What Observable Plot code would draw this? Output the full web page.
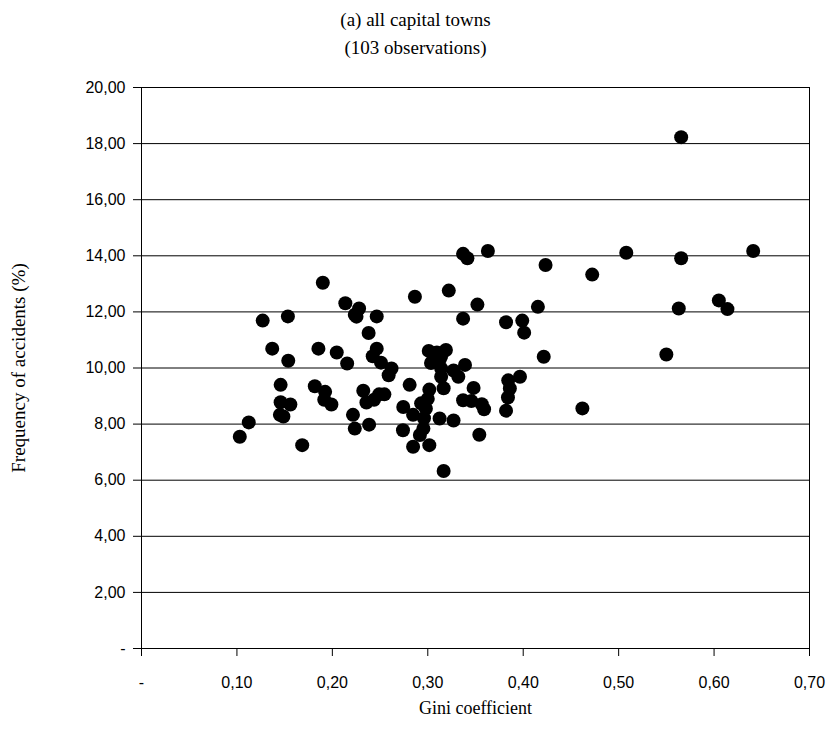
<!DOCTYPE html>
<html>
<head>
<meta charset="utf-8">
<script src="https://cdn.jsdelivr.net/npm/d3@7"></script>
<script src="https://cdn.jsdelivr.net/npm/@observablehq/plot@0.6"></script>
<style>
  html, body { margin: 0; padding: 0; background: #fff; }
  #title { width: 831px; height: 62px; padding-top: 6px; box-sizing: border-box; text-align: center;
           font-family: "Liberation Serif", "Times New Roman", serif; font-size: 19px; line-height: 28px; color: #000; }
</style>
</head>
<body>
<div id="title"></div>
<div id="chart"></div>
<script>
const titleLines = ["(a) all capital towns", "(103 observations)"];
const xLabel = "Gini coefficient";
const yLabel = "Frequency of accidents (%)";
const xTicks = [0, 0.1, 0.2, 0.3, 0.4, 0.5, 0.6, 0.7];
const yTicks = [0, 2, 4, 6, 8, 10, 12, 14, 16, 18, 20];

const gini = [
  0.5655, 0.337, 0.3415, 0.363, 0.508, 0.5655, 0.641, 0.4234, 0.4723, 0.190,
  0.2865, 0.322, 0.2136, 0.228, 0.2235, 0.2253, 0.2465, 0.1534, 0.127, 0.352,
  0.337, 0.4154, 0.382, 0.399, 0.401, 0.563, 0.605, 0.614, 0.238, 0.137,
  0.1854, 0.2046, 0.1538, 0.2155, 0.2465, 0.2423, 0.251, 0.262, 0.259, 0.301,
  0.3095, 0.319, 0.3034, 0.314, 0.314, 0.314, 0.327, 0.332, 0.339, 0.4215,
  0.550, 0.3966, 0.3843, 0.386, 0.384, 0.382, 0.462, 0.1458, 0.1816, 0.1924,
  0.1915, 0.199, 0.1458, 0.156, 0.145, 0.1487, 0.1124, 0.103, 0.1684, 0.2324,
  0.2357, 0.2437, 0.249, 0.2545, 0.2216, 0.2235, 0.2385, 0.281, 0.2743, 0.2846,
  0.274, 0.2846, 0.3016, 0.300, 0.293, 0.2964, 0.296, 0.2954, 0.2917, 0.3016,
  0.3166, 0.3124, 0.327, 0.3166, 0.348, 0.337, 0.3457, 0.3566, 0.359, 0.354,
  0.306, 0.3125, 0.298
];
const freq = [
  18.23, 14.07, 13.91, 14.17, 14.11, 13.91, 14.17, 13.67, 13.33, 13.04,
  12.54, 12.76, 12.31, 12.12, 11.90, 11.83, 11.84, 11.84, 11.69, 12.26,
  11.76, 12.18, 11.63, 11.69, 11.26, 12.12, 12.41, 12.10, 11.25, 10.69,
  10.69, 10.55, 10.26, 10.16, 10.69, 10.42, 10.19, 9.98, 9.74, 10.61,
  10.55, 10.64, 10.18, 10.42, 9.98, 9.69, 9.91, 9.69, 10.11, 10.40,
  10.48, 9.69, 9.56, 9.27, 8.95, 8.48, 8.56, 9.40, 9.35, 9.15,
  8.87, 8.70, 8.78, 8.70, 8.33, 8.27, 8.06, 7.55, 7.25, 9.19,
  8.77, 8.87, 9.06, 9.06, 8.33, 7.84, 7.98, 9.40, 8.61, 8.33,
  7.78, 7.19, 9.23, 8.90, 8.74, 8.66, 8.21, 7.84, 7.61, 7.25,
  9.28, 8.20, 8.13, 6.33, 9.29, 8.85, 8.82, 8.71, 8.53, 7.62,
  10.45, 10.30, 8.55
];

document.getElementById("title").innerHTML = titleLines.map(t => `<div>${t}</div>`).join("");

const data = gini.map((g, i) => ({gini: g, freq: freq[i]}));
const fmt = d => d === 0 ? "-" : d.toFixed(2).replace(".", ",");
const serif = "'Liberation Serif', 'Times New Roman', serif";

const chart = Plot.plot({
  width: 831,
  height: 669,
  marginTop: 25,
  marginBottom: 83,
  marginLeft: 141,
  marginRight: 22,
  style: {fontFamily: "'Liberation Sans', Arial, sans-serif", fontSize: "16px", color: "#000", background: "#fff"},
  x: {domain: [0, 0.7], ticks: xTicks, tickFormat: fmt, label: null},
  y: {domain: [0, 20], ticks: yTicks, tickFormat: fmt, label: null},
  marks: [
    Plot.gridY(yTicks, {stroke: "#000", strokeOpacity: 1, strokeWidth: 1}),
    Plot.frame({stroke: "#000", strokeWidth: 1}),
    Plot.axisX({ticks: xTicks, tickFormat: fmt, tickSize: 8, tickPadding: 20, label: null, stroke: "#000", fontSize: 16}),
    Plot.axisY({ticks: yTicks, tickFormat: fmt, tickSize: 8, tickPadding: 8, label: null, stroke: "#000", fontSize: 16}),
    Plot.dot(data, {x: "gini", y: "freq", r: 7, fill: "#000", stroke: "none"}),
    Plot.text([xLabel], {frameAnchor: "bottom", dy: 65, fontFamily: serif, fontSize: 18, fill: "#000"}),
    Plot.text([yLabel], {frameAnchor: "left", dx: -123, rotate: -90, textAnchor: "middle", fontFamily: serif, fontSize: 19, fill: "#000"})
  ]
});
document.getElementById("chart").appendChild(chart);
</script>
</body>
</html>
